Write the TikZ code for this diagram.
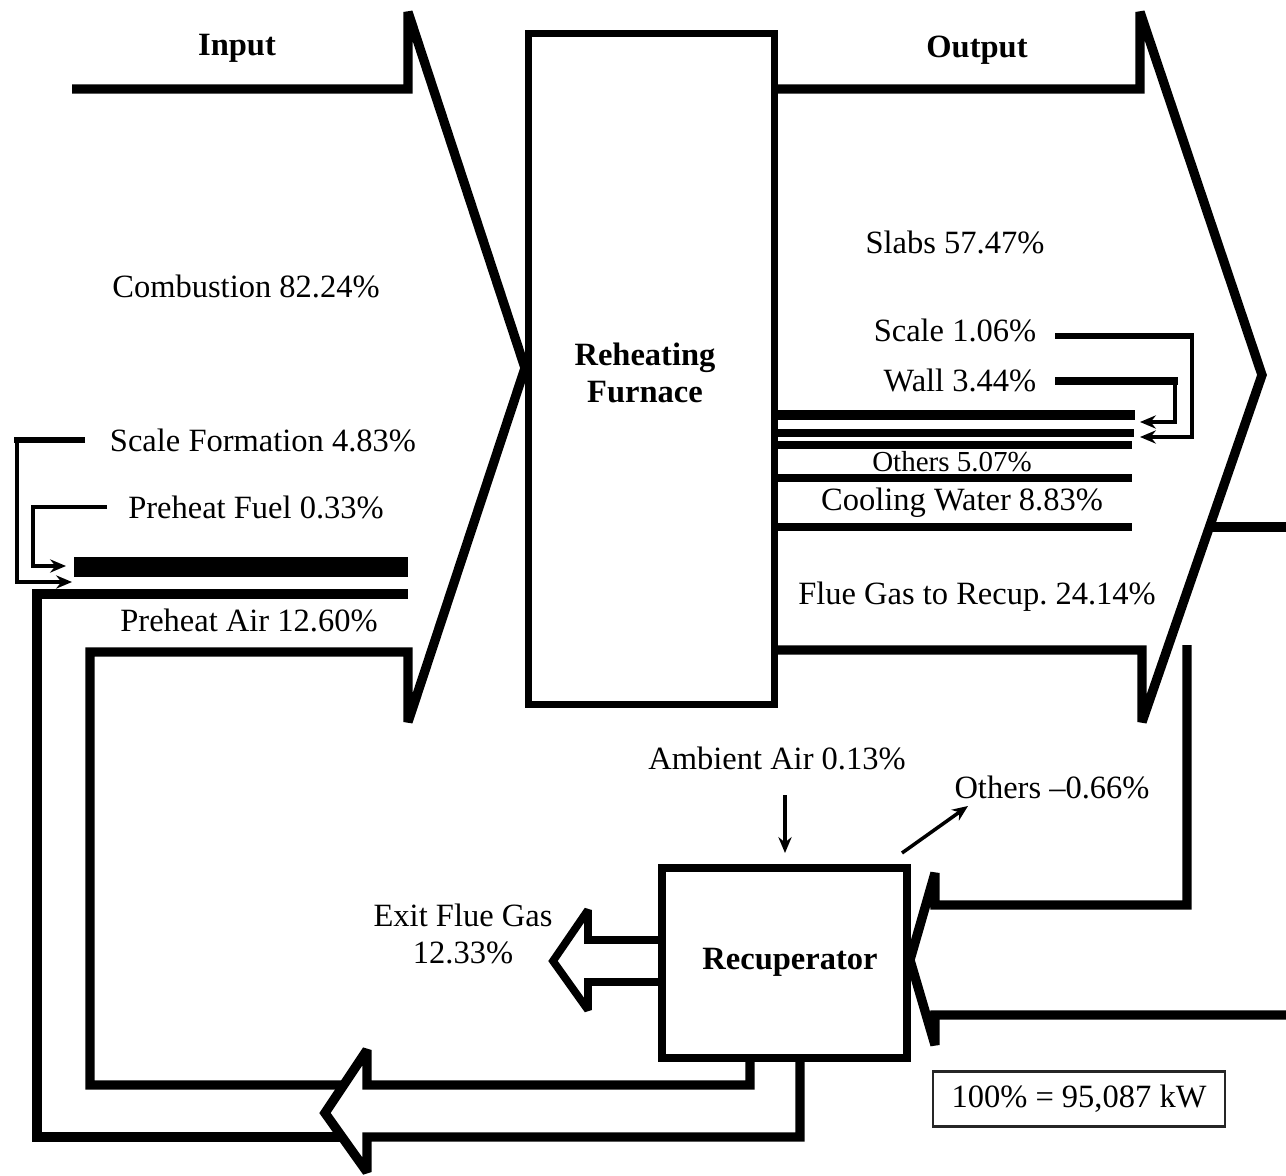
\documentclass[tikz,border=0pt]{standalone}
\usepackage{fontspec}
\setmainfont{Liberation Serif}
\usetikzlibrary{arrows.meta}
\begin{document}
\begin{tikzpicture}[x=0.02cm,y=-0.02cm,
  flow/.style={line width=5.3pt, line join=miter, miter limit=2, line cap=butt},
  midflow/.style={line width=4.4pt, line join=miter, miter limit=2},
  lbl/.style={font=\fontsize{18.5}{21}\selectfont, inner sep=0pt},
  smalllbl/.style={font=\fontsize{16.5}{19}\selectfont, inner sep=0pt},
  ttl/.style={font=\fontsize{18.5}{21.5}\selectfont\bfseries, inner sep=0pt, align=center},
  conn/.style={line width=2pt, line join=miter, -{Stealth[length=9pt,width=7.5pt]}},
  unitbox/.style={draw, line width=4pt, inner sep=0pt},
]
\useasboundingbox (0,0) rectangle (1286,1176);

% ---------- units ----------
\node[unitbox, minimum width=4.94cm, minimum height=13.44cm] (furnace) at (651.5,369) {};
\node[ttl] (furnacelbl) at (645,373) {Reheating\\Furnace};
\node[unitbox, line width=4.4pt, minimum width=4.9cm, minimum height=3.8cm] (recup) at (784.5,963) {};
\node[ttl] (recuplbl) at (790,962) {Recuperator};

% ---------- input arrow ----------
\draw[flow] (72,89) -- (408,89) -- (408,12) -- (525,368) -- (408,722) -- (408,652) -- (90,652) -- (90,1085) -- (344,1085);
\draw[flow] (408,594) -- (37,594) -- (37,1137) -- (342,1137);
\draw[line width=11pt] (74,567) -- (408,567);

% ---------- return arrow from recuperator ----------
\draw[flow] (750,1058) -- (750,1085) -- (367,1085) -- (367,1050) -- (325,1113) -- (367,1172) -- (367,1137) -- (800,1137) -- (800,1058);

% ---------- output arrow ----------
\draw[flow] (775,89) -- (1140,89) -- (1140,12) -- (1262,375) -- (1142,722) -- (1142,650) -- (775,650);
\draw[flow] (1209,527) -- (1286,527);
\draw[flow] (1187,645) -- (1187,905) -- (935,905) -- (935,873) -- (910,960) -- (935,1045) -- (935,1015) -- (1286,1015);

% output streams
\draw[line width=5.6pt] (775,415) -- (1135,415);
\draw[line width=4pt] (775,433) -- (1134,433);
\draw[line width=4.2pt] (775,445) -- (1132,445);
\draw[line width=4.6pt] (775,478) -- (1132,478);
\draw[line width=4pt] (775,527) -- (1132,527);

% ---------- exit flue gas ----------
\draw[midflow] (660,940) -- (588,940) -- (588,910) -- (553,961) -- (588,1010) -- (588,982) -- (660,982);

% ---------- labels ----------
\node[ttl] (input) at (237,48) {Input};
\node[ttl] (output) at (977,50) {Output};
\node[lbl] (comb) at (246,286) {Combustion 82.24\%};
\node[lbl] (scalef) at (263,440) {Scale Formation 4.83\%};
\node[lbl] (pfuel) at (256,507) {Preheat Fuel 0.33\%};
\node[lbl] (pair) at (249,620) {Preheat Air 12.60\%};
\node[lbl] (slabs) at (955,242) {Slabs 57.47\%};
\node[lbl] (scale) at (955,330) {Scale 1.06\%};
\node[lbl] (wall) at (960,380) {Wall 3.44\%};
\node[smalllbl] (others) at (952,462) {Others 5.07\%};
\node[lbl] (cool) at (962,503) {Cooling Water 8.83\%};
\node[lbl] (flue) at (977,597) {Flue Gas to Recup.\ 24.14\%};
\node[lbl] (ambient) at (777,758) {Ambient Air 0.13\%};
\node[lbl] (otherstwo) at (1052,787) {Others --0.66\%};
\node[lbl, align=center, font=\fontsize{18.5}{21}\selectfont] (exitgas) at (463,934) {Exit Flue Gas\\12.33\%};
\node[draw=black!85, line width=1.2pt, inner sep=0pt, minimum width=5.84cm, minimum height=1.1cm, font=\fontsize{18.5}{21}\selectfont] (total) at (1079,1099) {100\% = 95,087 kW};

% ---------- feed-back connectors ----------
\coordinate (sfA) at (85,440);  \coordinate (sfB) at (17,440);
\coordinate (sfC) at (17,582);  \coordinate (sfD) at (72,582);
\draw[line width=3.6pt] (sfA) -- ([xshift=-1.5pt]sfB);
\draw[conn] (sfB) -- (sfC) -- (sfD);

\coordinate (pfA) at (107,507); \coordinate (pfB) at (33,507);
\coordinate (pfC) at (33,566);  \coordinate (pfD) at (66,566);
\draw[line width=2.4pt] (pfA) -- ([xshift=-1pt]pfB);
\draw[conn] (pfB) -- (pfC) -- (pfD);

\coordinate (scA) at (1055,336); \coordinate (scB) at (1192,336);
\coordinate (scC) at (1192,437); \coordinate (scD) at (1140,437);
\draw[line width=3pt] (scA) -- ([xshift=1pt]scB);
\draw[conn] (scB) -- (scC) -- (scD);

\coordinate (waA) at (1055,381); \coordinate (waB) at (1175,381);
\coordinate (waC) at (1175,422); \coordinate (waD) at (1140,422);
\draw[line width=4pt] (waA) -- ([xshift=1.5pt]waB);
\draw[conn] (waB) -- (waC) -- (waD);

\coordinate (amA) at (785,795); \coordinate (amB) at (785,853);
\draw[conn] (amA) -- (amB);
\coordinate (otA) at (902,853); \coordinate (otB) at (968,806);
\draw[conn] (otA) -- (otB);
\end{tikzpicture}
\end{document}
